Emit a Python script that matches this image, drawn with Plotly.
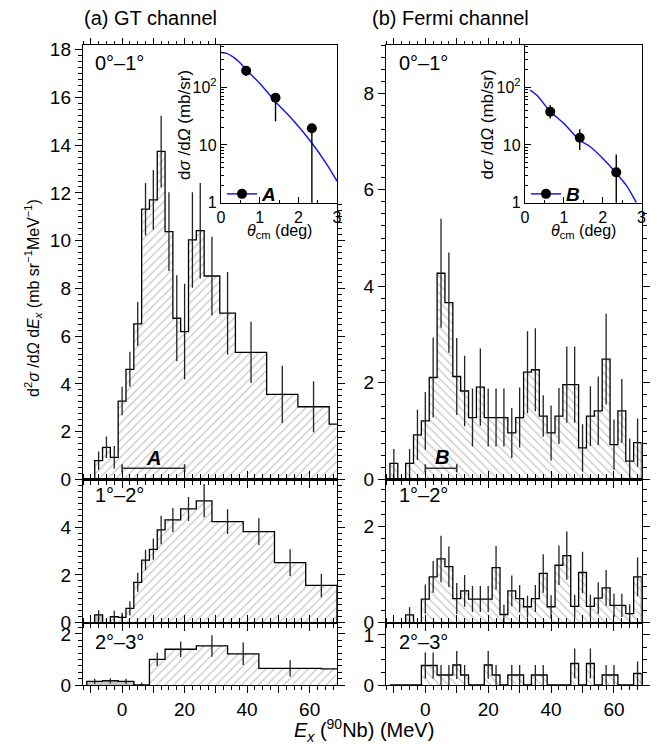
import plotly.graph_objects as go

W, H = 657, 744
FONT = "Liberation Sans, Arial, Helvetica, sans-serif"
BLUE = "#1a1ae6"

# ---------------- data ----------------
# (a) GT channel
gt01_edges = [-8.75, -6.25, -3.75, -1.25, 1.25, 3.75, 6.25, 8.75, 11.25, 13.75, 16.25,
              18.75, 21.25, 23.75, 26.25, 31.25, 36.25, 46.25, 56.25, 66.25, 76.25]
gt01_vals = [0.78, 1.34, 0.92, 3.28, 4.61, 6.51, 11.32, 11.71, 13.74, 10.38, 6.75,
             6.19, 10.03, 10.42, 8.52, 6.96, 5.32, 3.56, 3.04, 2.31]
gt01_errs = [0.38, 0.45, 0.48, 0.60, 0.73, 0.92, 1.10, 1.25, 1.50, 1.65, 1.80,
             2.00, 2.00, 2.00, 1.64, 1.73, 1.28, 1.20, 1.07, 0.0]
gt01_gray = 0

gt12_edges = [-8.75, -6.25, -3.75, -1.25, 1.25, 3.75, 6.25, 8.75, 11.25, 13.75,
              18.75, 23.75, 28.75, 38.75, 48.75, 58.75, 68.75]
gt12_vals = [0.32, 0.0, 0.25, 0.22, 0.60, 1.69, 2.62, 3.07, 3.88, 4.30,
             4.76, 5.10, 4.23, 3.81, 2.51, 1.56]
gt12_errs = [0.20, 0.15, 0.25, 0.20, 0.30, 0.40, 0.43, 0.44, 0.60, 0.50,
             0.50, 0.70, 0.52, 0.56, 0.56, 0.49]
gt12_gray = 1

gt23_edges = [-11.25, -6.25, -1.25, 3.75, 8.75, 13.75, 23.75, 33.75, 43.75, 63.75, 73.75]
gt23_vals = [0.14, 0.16, 0.14, 0.0, 1.00, 1.40, 1.53, 1.22, 0.65, 0.63]
gt23_errs = [0.10, 0.10, 0.10, 0.10, 0.26, 0.30, 0.42, 0.44, 0.32, 0.0]
gt23_gray = 3

# (b) Fermi channel
fermi_edges = [-11.25, -8.75, -6.25, -3.75, -1.25, 1.25, 3.75, 6.25, 8.75, 11.25, 13.75,
               16.25, 18.75, 21.25, 23.75, 26.25, 28.75, 31.25, 33.75, 36.25, 38.75,
               41.25, 43.75, 46.25, 48.75, 51.25, 53.75, 56.25, 58.75, 61.25, 63.75,
               66.25, 68.75]
f01_vals = [0.33, 0.0, 0.33, 0.92, 1.21, 2.11, 4.27, 3.66, 2.13, 1.83, 1.28, 1.91,
            1.28, 1.28, 1.28, 0.96, 1.28, 2.22, 2.27, 1.31, 0.96, 1.31, 1.96, 1.96,
            0.65, 1.31, 1.42, 2.49, 0.72, 1.42, 0.375, 0.76]
f01_errs = [0.30, 0.0, 0.30, 0.52, 0.60, 0.83, 1.13, 1.04, 0.80, 0.73, 0.60, 0.80,
            0.60, 0.60, 0.60, 0.52, 0.62, 0.85, 0.86, 0.43, 0.57, 0.58, 0.79, 0.79,
            0.49, 0.62, 0.71, 0.94, 0.52, 0.66, 0.47, 0.50]
f12_vals = [0.0, 0.0, 0.16, 0.0, 0.49, 0.95, 1.32, 1.16, 0.50, 0.66, 0.49, 0.49,
            0.49, 1.14, 0.17, 0.66, 0.50, 0.33, 0.50, 1.02, 0.33, 1.19, 1.39, 0.34,
            1.04, 0.34, 0.51, 0.72, 0.36, 0.36, 0.19, 0.95]
f12_errs = [0.0, 0.0, 0.16, 0.0, 0.30, 0.33, 0.48, 0.42, 0.32, 0.33, 0.27, 0.27,
            0.27, 0.45, 0.20, 0.32, 0.28, 0.23, 0.28, 0.40, 0.24, 0.41, 0.50, 0.24,
            0.43, 0.24, 0.33, 0.37, 0.24, 0.24, 0.19, 0.40]
f23_vals = [0.0, 0.0, 0.0, 0.0, 0.39, 0.39, 0.20, 0.20, 0.40, 0.20, 0.0, 0.0,
            0.40, 0.20, 0.0, 0.20, 0.20, 0.0, 0.20, 0.20, 0.0, 0.0, 0.0, 0.43,
            0.0, 0.43, 0.0, 0.20, 0.20, 0.0, 0.0, 0.23]
f23_errs = [0.0, 0.0, 0.0, 0.0, 0.26, 0.26, 0.20, 0.20, 0.28, 0.20, 0.0, 0.0,
            0.28, 0.20, 0.0, 0.20, 0.20, 0.0, 0.20, 0.20, 0.0, 0.0, 0.0, 0.30,
            0.0, 0.30, 0.0, 0.20, 0.20, 0.0, 0.0, 0.24]

region_A = [0.0, 20.0]
region_A_y = 0.46
region_B = [0.0, 10.0]
region_B_y = 0.23

# insets: angular distributions
theta_pts = [0.65, 1.41, 2.35]
A_pts = [192.0, 65.6, 19.4]
A_err_plus = [33.0, 12.0, 2.0]
A_err_minus = [36.0, 40.0, 19.0]
B_pts = [37.6, 13.3, 3.35]
B_err_plus = [11.4, 5.3, 3.5]
B_err_minus = [8.8, 5.1, 3.0]
A_curve_theta = [0.0, 0.15, 0.32, 0.49, 0.66, 1.0, 1.41, 1.86, 2.36, 2.72, 3.0]
A_curve = [400, 385, 330, 265, 198, 117, 56, 27, 10.6, 4.8, 2.37]
B_curve_theta = [0.13, 0.30, 0.65, 1.0, 1.40, 1.68, 2.03, 2.34, 2.63, 2.87]
B_curve = [89, 73, 38, 23.6, 12.2, 9.3, 5.6, 3.3, 1.9, 1.0]

x_tickvals = [-10, 0, 10, 20, 30, 40, 50, 60]
x_ticktext = ["", "0", "", "20", "", "40", "", "60"]

# ---------------- layout geometry (pixels) ----------------
XR = [-12.5, 68.75]
LX = (83, 337)
RX = (386, 641.5)
TOP = (45, 479.3)
MID = (479.3, 622.7)
BOT = (622.7, 685)
INS_LX = (221, 337)
INS_RX = (525, 641.5)
INS_Y = (45, 202.7)


def dx(a, b):
    return [a / W, b / W]


def dy(top, bot):
    return [1 - bot / H, 1 - top / H]


def step_xy(edges, vals):
    xs, ys = [edges[0]], [0]
    for i, v in enumerate(vals):
        xs.append(edges[i])
        ys.append(v)
    xs += [edges[len(vals)], edges[len(vals)]]
    ys += [vals[-1], 0]
    return xs, ys


tickfont = dict(family=FONT, size=19, color="black")
fig = go.Figure()

panels = [
    ("gt01", "x", "y", LX, TOP, [0, 18.2], list(range(0, 19, 2)), gt01_edges, gt01_vals, gt01_errs, gt01_gray, "/", False, True),
    ("gt12", "x2", "y2", LX, MID, [0, 6.0], [0, 2, 4], gt12_edges, gt12_vals, gt12_errs, gt12_gray, "/", False, False),
    ("gt23", "x3", "y3", LX, BOT, [0, 2.44], [0, 2], gt23_edges, gt23_vals, gt23_errs, gt23_gray, "/", True, False),
    ("f01", "x4", "y4", RX, TOP, [0, 9.0], [0, 2, 4, 6, 8], fermi_edges, f01_vals, f01_errs, 0, "\\", False, True),
    ("f12", "x5", "y5", RX, MID, [0, 2.97], [0, 2], fermi_edges, f12_vals, f12_errs, 0, "\\", False, False),
    ("f23", "x6", "y6", RX, BOT, [0, 1.245], [0, 1], fermi_edges, f23_vals, f23_errs, 0, "\\", True, False),
]

layout_axes = {}
for (name, xa, ya, xd, yd, yr, ytv, edges, vals, errs, ngray, hatch, xlab, is_top) in panels:
    xs, ys = step_xy(edges, vals)
    fig.add_trace(go.Scatter(
        x=xs, y=ys, xaxis=xa, yaxis=ya, mode="lines",
        line=dict(color="black", width=1.3, shape="hv"),
        fill="tozeroy",
        fillpattern=dict(shape=hatch, fgcolor="#8c8c8c", bgcolor="white", size=6, solidity=0.2),
        hoverinfo="skip", showlegend=False))
    if ngray:
        gx, gy = step_xy(edges[:ngray + 1], vals[:ngray])
        fig.add_trace(go.Scatter(
            x=gx, y=gy, xaxis=xa, yaxis=ya, mode="lines",
            line=dict(color="black", width=1.1, shape="hv"),
            fill="tozeroy", fillcolor="#c4c4c4", hoverinfo="skip", showlegend=False))
    cx = [(edges[i] + edges[i + 1]) / 2 for i in range(len(vals)) if errs[i] > 0]
    cy = [vals[i] for i in range(len(vals)) if errs[i] > 0]
    ce = [errs[i] for i in range(len(vals)) if errs[i] > 0]
    fig.add_trace(go.Scatter(
        x=cx, y=cy, xaxis=xa, yaxis=ya, mode="markers",
        marker=dict(size=1, color="rgba(0,0,0,0)"),
        error_y=dict(type="data", array=ce, symmetric=True, color="#222222", thickness=1.3, width=0),
        hoverinfo="skip", showlegend=False))

    xkey = "xaxis" + xa[1:]
    ykey = "yaxis" + ya[1:]
    layout_axes[xkey] = dict(
        domain=dx(*xd), anchor=ya, range=XR, showline=True, linecolor="black", linewidth=1.2,
        mirror=True if is_top else "ticks", ticks="outside", ticklen=7, tickwidth=1, tickcolor="black",
        tickmode="array", tickvals=x_tickvals, ticktext=x_ticktext, showticklabels=xlab,
        minor=dict(tickmode="linear", tick0=0, dtick=2.5, ticks="outside", ticklen=4, tickwidth=1, tickcolor="black"),
        showgrid=False, zeroline=False, tickfont=tickfont, fixedrange=True, automargin=False)
    layout_axes[ykey] = dict(
        domain=dy(*yd), anchor=xa, range=yr, showline=True, linecolor="black", linewidth=1.2,
        mirror=True if is_top else "ticks", ticks="outside", ticklen=7, tickwidth=1, tickcolor="black",
        tickmode="array", tickvals=ytv, ticktext=[str(v) for v in ytv],
        minor=dict(tickmode="linear", tick0=0, dtick=0.25, ticks="outside", ticklen=4, tickwidth=1, tickcolor="black"),
        showgrid=False, zeroline=False, tickfont=tickfont, fixedrange=True, automargin=False)

# partial tick axes on the top and right edges of the top panels (not under the insets)
for (pxd, insx, yr, xa_id, ya_id, ytv) in [(LX, INS_LX, [0, 18.2], "x9", "y9", list(range(0, 19, 2))),
                                           (RX, INS_RX, [0, 9.0], "x10", "y10", [0, 2, 4, 6, 8])]:
    x_cut = XR[0] + (insx[0] - pxd[0]) / (pxd[1] - pxd[0]) * (XR[1] - XR[0])
    y_cut = yr[1] * (TOP[1] - INS_Y[1]) / (TOP[1] - TOP[0])
    fig.add_trace(go.Scatter(x=[None], y=[None], xaxis=xa_id, yaxis=ya_id, showlegend=False, hoverinfo="skip"))
    layout_axes["xaxis" + xa_id[1:]] = dict(
        domain=dx(pxd[0], insx[0]), anchor="free", position=1 - TOP[0] / H, side="top",
        range=[XR[0], x_cut], showline=False, ticks="outside", ticklen=7, tickwidth=1, tickcolor="black",
        tickmode="array", tickvals=x_tickvals, showticklabels=False,
        minor=dict(tickmode="linear", tick0=0, dtick=2.5, ticks="outside", ticklen=4, tickwidth=1, tickcolor="black"),
        showgrid=False, zeroline=False, fixedrange=True, automargin=False)
    layout_axes["yaxis" + ya_id[1:]] = dict(
        domain=dy(INS_Y[1], TOP[1]), anchor="free", position=pxd[1] / W, side="right",
        range=[0, y_cut], showline=False, ticks="outside", ticklen=7, tickwidth=1, tickcolor="black",
        tickmode="array", tickvals=ytv, showticklabels=False,
        minor=dict(tickmode="linear", tick0=0, dtick=0.25, ticks="outside", ticklen=4, tickwidth=1, tickcolor="black"),
        showgrid=False, zeroline=False, fixedrange=True, automargin=False)

# region bars A and B
for (reg, ry, xa, ya) in [(region_A, region_A_y, "x", "y"), (region_B, region_B_y, "x4", "y4")]:
    fig.add_trace(go.Scatter(
        x=[(reg[0] + reg[1]) / 2], y=[ry], xaxis=xa, yaxis=ya, mode="markers",
        marker=dict(size=1, color="rgba(0,0,0,0)"),
        error_x=dict(type="data", array=[(reg[1] - reg[0]) / 2], color="#333333", thickness=1.6, width=4),
        hoverinfo="skip", showlegend=False))

# insets
inset_font = dict(family=FONT, size=16, color="black")
for (xa, ya, insx, cth, cv, pv, ep, em, lname, legid) in [
        ("x7", "y7", INS_LX, A_curve_theta, A_curve, A_pts, A_err_plus, A_err_minus, "A", "legend"),
        ("x8", "y8", INS_RX, B_curve_theta, B_curve, B_pts, B_err_plus, B_err_minus, "B", "legend2")]:
    fig.add_trace(go.Scatter(
        x=cth, y=cv, xaxis=xa, yaxis=ya, mode="lines",
        line=dict(color=BLUE, width=1.5, shape="spline", smoothing=0.8),
        hoverinfo="skip", showlegend=False))
    fig.add_trace(go.Scatter(
        x=theta_pts, y=pv, xaxis=xa, yaxis=ya, mode="markers",
        marker=dict(color="black", size=10),
        error_y=dict(type="data", symmetric=False, array=ep, arrayminus=em, color="black", thickness=1.4, width=0),
        hoverinfo="skip", showlegend=False))
    fig.add_trace(go.Scatter(
        x=[None], y=[None], xaxis=xa, yaxis=ya, mode="lines+markers",
        line=dict(color=BLUE, width=1.5), marker=dict(color="black", size=10),
        name="<b><i>%s</i></b>" % lname, showlegend=True, legend=legid))
    layout_axes["xaxis" + xa[1:]] = dict(
        domain=dx(*insx), anchor=ya, range=[0, 3], showline=True, linecolor="black", linewidth=1.2,
        mirror=True, ticks="inside", ticklen=6, tickwidth=1, tickcolor="black",
        tickmode="linear", tick0=0, dtick=1,
        minor=dict(tickmode="linear", tick0=0, dtick=0.5, ticks="inside", ticklen=3, tickwidth=1, tickcolor="black"),
        showgrid=False, zeroline=False, tickfont=inset_font, fixedrange=True, automargin=False)
    layout_axes["yaxis" + ya[1:]] = dict(
        domain=dy(*INS_Y), anchor=xa, type="log", range=[0, 2.73], showline=True, linecolor="black",
        linewidth=1.2, mirror=True, ticks="inside", ticklen=6, tickwidth=1, tickcolor="black",
        tickmode="array", tickvals=[1, 10, 100], ticktext=["1", "10", "10<sup>2</sup>"],
        minor=dict(tickmode="linear", dtick="D1", ticks="inside", ticklen=3, tickwidth=1, tickcolor="black"),
        showgrid=False, zeroline=False, tickfont=inset_font, fixedrange=True, automargin=False)

annotations = []


def ann(text, x, y, size=20, xanchor="left", yanchor="middle", angle=0, xref="paper", yref="paper"):
    annotations.append(dict(text=text, x=x, y=y, xref=xref, yref=yref, xanchor=xanchor,
                            yanchor=yanchor, textangle=angle, showarrow=False,
                            font=dict(family=FONT, size=size, color="black")))


ann("(a) GT channel", 82 / W, 1 - 18 / H, size=20)
ann("(b) Fermi channel", 370 / W, 1 - 18 / H, size=20)
for (x0, ypos, lab) in [(93, 63.3, "0°–1°"), (93, 495, "1°–2°"), (93, 641.7, "2°–3°"),
                        (396.7, 63.3, "0°–1°"), (396.7, 495, "1°–2°"), (396.7, 641.7, "2°–3°")]:
    ann(lab, x0 / W, 1 - ypos / H, size=20)
ann("<b><i>A</i></b>", 10, 0.91, size=20, xanchor="center", xref="x", yref="y")
ann("<b><i>B</i></b>", 5.2, 0.47, size=20, xanchor="center", xref="x4", yref="y4")
ann("d<sup>2</sup><i>σ</i> /d<i>Ω</i> d<i>E<sub>x</sub></i> (mb sr<sup>−1</sup>MeV<sup>−1</sup>)",
    33 / W, 1 - 298 / H, size=16, xanchor="center", angle=-90)
ann("<i>E<sub>x</sub></i> (<sup>90</sup>Nb) (MeV)", 364 / W, 1 - 730 / H, size=20, xanchor="center")
for (xc, ins) in [(185, INS_LX), (487.5, INS_RX)]:
    ann("d<i>σ</i> /d<i>Ω</i> (mb/sr)", xc / W, 1 - 125 / H, size=17, xanchor="center", angle=-90)
    ann("<i>θ</i><sub>cm</sub> (deg)", (ins[0] + ins[1]) / 2 / W, 1 - 231 / H, size=16, xanchor="center")

legend_common = dict(bgcolor="rgba(0,0,0,0)", borderwidth=0, xanchor="left", yanchor="middle",
                     font=dict(family=FONT, size=19, color="black"), itemwidth=30,
                     tracegroupgap=0, orientation="v")

fig.update_layout(
    width=W, height=H, margin=dict(l=0, r=0, t=0, b=0, pad=0, autoexpand=False),
    paper_bgcolor="white", plot_bgcolor="rgba(0,0,0,0)",
    annotations=annotations,
    legend=dict(x=222 / W, y=1 - 194 / H, **legend_common),
    legend2=dict(x=526 / W, y=1 - 194 / H, **legend_common),
    **layout_axes)

fig.write_html("out.html", config={"displayModeBar": False, "staticPlot": True},
               post_script="document.body.style.margin='0px';")
